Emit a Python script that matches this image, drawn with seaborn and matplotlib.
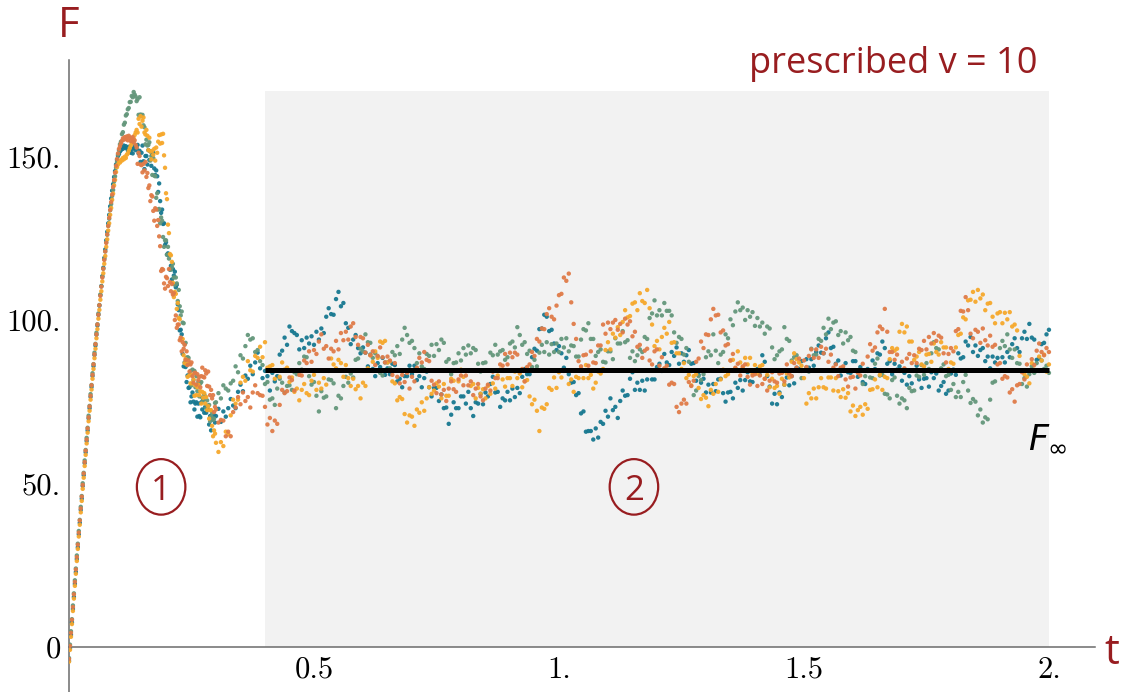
import numpy as np
import pandas as pd
import matplotlib
matplotlib.use("Agg")
import matplotlib.pyplot as plt
from matplotlib.patches import Rectangle, Ellipse
import seaborn as sns

# ---------------------------------------------------------------------------
# Force F(t) for four runs at prescribed velocity v = 10.
# Rise phase sampled every 0.002 (t = 0 ... 0.300),
# plateau phase sampled every 0.005 (t = 0.305 ... 2.000).
# ---------------------------------------------------------------------------
t_rise = np.round(np.arange(151) * 0.002, 3)
t_plateau = np.round(0.305 + np.arange(340) * 0.005, 3)

runs = ["run A", "run B", "run C", "run D"]
run_colors = ["#177890", "#64977b", "#f6a82c", "#e07b48"]

f_run_a_rise = [
    -4.4, -0.5, 3.6, 7.4, 11.5, 15.2, 19.2, 22.8, 26.8, 30.4,
    34.4, 37.9, 41.9, 45.3, 49.2, 52.5, 56.2, 59.5, 63.0, 66.2,
    69.9, 73.0, 76.5, 79.5, 82.9, 85.9, 89.3, 92.2, 95.5, 98.3,
    101.6, 104.4, 107.6, 110.4, 113.4, 116.0, 119.0, 121.6, 124.4, 127.0,
    129.6, 132.2, 134.8, 137.2, 139.6, 141.6, 143.8, 145.6, 147.6, 149.0,
    150.2, 150.8, 151.6, 152.0, 152.8, 152.4, 153.4, 152.8, 153.2, 152.6,
    152.0, 153.0, 151.6, 151.2, 152.2, 151.0, 152.6, 153.2, 152.0, 152.6,
    153.6, 151.0, 151.8, 148.4, 151.2, 153.4, 148.6, 146.2, 150.2, 150.2,
    147.6, 152.0, 149.0, 151.6, 147.2, 150.6, 151.2, 146.4, 144.4, 145.8,
    144.0, 139.2, 141.8, 136.4, 132.8, 133.8, 129.4, 129.6, 123.0, 123.8,
    120.0, 120.4, 120.0, 115.4, 116.6, 112.4, 115.6, 113.6, 114.8, 110.0,
    110.8, 104.8, 103.0, 96.8, 97.0, 95.6, 89.6, 85.8, 87.0, 85.6,
    81.0, 83.0, 79.2, 79.4, 74.8, 76.6, 77.8, 75.0, 72.6, 74.4,
    74.8, 70.4, 74.4, 70.6, 70.2, 74.8, 72.6, 75.6, 71.6, 73.4,
    71.6, 72.6, 72.6, 68.0, 70.6, 66.2, 69.6, 69.6, 70.8, 68.6,
    70.6,
]
f_run_a_plateau = [
    72.8, 68.8, 72.0, 70.4, 73.0, 75.8, 73.8, 73.0, 78.0, 80.2,
    78.2, 83.0, 82.0, 86.0, 83.4, 87.0, 90.0, 85.2, 82.2, 84.4,
    82.8, 78.4, 83.8, 81.2, 82.8, 89.4, 90.6, 94.6, 92.4, 98.0,
    96.6, 96.0, 95.4, 91.0, 93.8, 91.4, 94.6, 92.8, 95.0, 92.4,
    96.4, 94.0, 97.4, 96.0, 101.0, 103.6, 101.8, 101.6, 106.4, 108.6,
    104.2, 105.2, 99.0, 97.6, 92.6, 94.0, 95.4, 91.4, 89.8, 91.6,
    90.0, 85.8, 89.4, 85.0, 82.8, 86.8, 85.6, 88.4, 83.2, 85.2,
    83.4, 86.6, 86.2, 81.2, 82.0, 79.4, 82.8, 82.8, 86.0, 83.4,
    86.0, 81.6, 82.8, 79.4, 82.2, 84.2, 79.4, 76.6, 79.2, 79.2,
    75.2, 77.2, 73.0, 73.2, 68.2, 71.0, 74.8, 73.0, 73.0, 76.6,
    76.6, 74.4, 78.0, 73.0, 70.6, 74.8, 74.4, 77.4, 74.2, 77.8,
    76.6, 80.4, 82.6, 77.8, 78.0, 73.4, 76.0, 75.4, 78.0, 75.4,
    79.0, 76.4, 79.2, 77.6, 82.6, 85.0, 83.4, 83.4, 88.6, 91.2,
    90.6, 97.2, 97.4, 101.6, 101.0, 96.6, 97.0, 92.8, 90.8, 92.0,
    89.8, 85.4, 88.4, 83.4, 80.8, 81.0, 77.0, 77.6, 71.4, 72.0,
    65.8, 66.0, 66.0, 63.4, 66.8, 64.0, 68.8, 68.2, 72.2, 70.4,
    76.0, 72.4, 73.4, 70.0, 75.2, 78.4, 76.8, 77.0, 82.0, 84.0,
    78.6, 80.8, 78.6, 81.4, 78.4, 81.8, 84.6, 81.8, 81.8, 85.6,
    86.6, 84.4, 89.6, 87.0, 86.2, 90.2, 89.0, 91.6, 86.6, 89.8,
    87.2, 89.2, 90.8, 86.6, 86.8, 81.4, 83.2, 80.8, 82.0, 77.8,
    80.2, 77.8, 80.4, 78.2, 81.8, 82.0, 77.6, 75.0, 77.8, 78.0,
    76.0, 80.8, 79.2, 81.6, 78.4, 81.6, 84.0, 81.2, 81.0, 84.4,
    85.0, 83.2, 89.2, 87.2, 82.8, 79.6, 74.4, 77.4, 74.2, 77.8,
    76.4, 80.2, 82.4, 80.0, 82.8, 80.6, 85.4, 85.0, 87.4, 84.6,
    88.0, 85.4, 88.0, 86.0, 90.2, 92.2, 90.0, 89.8, 94.4, 96.2,
    91.4, 91.8, 86.6, 87.6, 83.0, 85.0, 86.8, 84.0, 83.8, 87.4,
    87.4, 82.6, 85.6, 81.0, 80.4, 85.0, 84.6, 87.6, 85.0, 89.8,
    89.4, 93.4, 91.4, 86.6, 87.4, 83.4, 86.6, 84.8, 85.8, 81.4,
    83.8, 80.2, 82.8, 80.6, 84.6, 86.0, 81.8, 79.2, 82.0, 82.2,
    79.6, 84.0, 82.2, 83.6, 78.4, 79.8, 81.0, 77.4, 78.4, 83.6,
    84.8, 83.2, 89.8, 88.2, 88.6, 93.4, 92.2, 94.8, 90.2, 92.2,
    89.0, 90.8, 91.4, 87.4, 88.8, 85.2, 88.8, 87.0, 88.4, 84.4,
    88.6, 87.0, 90.2, 88.6, 92.6, 94.4, 91.4, 90.2, 94.4, 96.4,
    94.2, 98.8, 94.6, 94.0, 87.8, 88.2, 92.6, 93.0, 95.6, 97.0,
]

f_run_b_rise = [
    -3.5, 0.6, 4.7, 8.4, 12.6, 16.3, 20.3, 23.9, 27.9, 31.5,
    35.4, 38.8, 42.8, 46.1, 50.0, 53.2, 57.0, 60.2, 63.9, 67.0,
    70.7, 73.7, 77.3, 80.1, 83.7, 86.5, 90.0, 92.7, 96.1, 98.7,
    102.0, 104.6, 107.8, 110.3, 113.3, 115.7, 118.6, 121.0, 123.8, 126.1,
    128.8, 131.0, 133.6, 135.5, 138.0, 139.8, 142.4, 144.0, 146.6, 148.4,
    150.6, 152.0, 153.8, 154.6, 156.9, 157.5, 159.8, 160.4, 162.6, 163.0,
    164.5, 164.9, 166.7, 166.8, 168.6, 168.2, 169.8, 169.0, 168.4, 167.0,
    167.6, 162.8, 168.2, 162.9, 162.4, 162.8, 159.6, 159.0, 153.8, 155.2,
    153.4, 153.6, 154.4, 148.8, 150.2, 144.4, 149.6, 144.2, 144.0, 137.4,
    138.8, 133.8, 134.0, 129.6, 131.4, 130.4, 125.4, 122.4, 124.4, 124.4,
    120.0, 122.4, 118.8, 120.0, 115.4, 116.2, 117.2, 113.0, 110.8, 113.0,
    111.2, 105.8, 109.2, 104.2, 101.4, 102.6, 99.2, 99.0, 92.6, 93.0,
    88.4, 88.6, 88.4, 83.4, 84.4, 80.0, 84.8, 81.6, 84.4, 79.4,
    82.8, 78.2, 81.0, 76.6, 80.6, 81.0, 76.2, 75.4, 77.2, 76.6,
    73.0, 75.4, 73.8, 74.0, 69.0, 70.4, 71.6, 69.4, 69.8, 74.6,
    74.8,
]
f_run_b_plateau = [
    77.6, 76.0, 80.0, 79.0, 78.4, 80.6, 81.4, 85.8, 84.0, 89.2,
    88.2, 92.0, 95.4, 94.0, 94.4, 90.2, 90.8, 87.4, 86.2, 80.4,
    81.0, 75.6, 76.0, 74.0, 79.0, 82.0, 80.8, 77.8, 79.8, 80.0,
    78.6, 84.0, 83.4, 86.8, 84.8, 88.8, 88.6, 82.8, 80.2, 81.0,
    76.8, 72.0, 78.2, 76.2, 76.6, 81.8, 81.6, 80.6, 73.0, 76.8,
    76.0, 79.8, 82.6, 80.8, 83.6, 82.4, 87.8, 88.2, 91.2, 90.4,
    95.6, 93.2, 93.0, 88.4, 89.8, 88.8, 83.8, 83.0, 87.0, 87.0,
    85.2, 90.2, 89.2, 92.0, 89.6, 94.0, 97.6, 95.4, 93.0, 93.6,
    91.4, 86.8, 89.8, 85.8, 85.0, 89.6, 89.0, 92.4, 89.0, 92.6,
    90.8, 94.0, 93.0, 87.2, 88.0, 83.4, 86.8, 87.0, 89.8, 87.6,
    91.4, 89.4, 92.2, 89.8, 91.4, 90.8, 86.6, 84.2, 86.8, 87.0,
    84.6, 90.0, 89.2, 92.4, 89.4, 90.4, 90.8, 87.8, 88.6, 92.8,
    93.4, 91.6, 97.8, 95.4, 92.4, 93.2, 89.6, 90.6, 85.6, 87.8,
    85.8, 90.0, 92.4, 90.2, 93.2, 89.4, 92.6, 90.2, 92.8, 90.2,
    94.2, 91.6, 94.4, 90.4, 92.2, 92.0, 88.8, 88.8, 94.0, 97.2,
    96.8, 99.0, 94.2, 94.2, 89.0, 90.2, 91.0, 87.2, 87.0, 90.4,
    90.4, 88.0, 94.4, 92.8, 92.8, 96.6, 93.2, 93.8, 88.4, 90.4,
    87.4, 89.2, 91.0, 90.2, 94.8, 94.2, 100.6, 102.0, 106.0, 101.4,
    103.0, 101.4, 105.2, 102.8, 102.8, 101.4, 96.2, 93.0, 94.8, 94.2,
    89.4, 91.4, 87.2, 84.4, 77.0, 78.4, 82.8, 81.6, 83.4, 88.6,
    90.4, 89.2, 95.6, 90.6, 86.8, 89.4, 90.2, 95.6, 94.4, 100.2,
    98.4, 102.6, 105.4, 103.0, 103.8, 100.0, 103.0, 101.0, 102.4, 98.2,
    100.6, 98.0, 99.2, 95.8, 98.0, 97.4, 91.6, 88.0, 89.2, 90.4,
    91.0, 97.8, 94.2, 93.6, 87.6, 88.6, 89.2, 84.4, 82.2, 84.6,
    85.4, 84.2, 91.2, 89.2, 89.4, 94.2, 93.6, 97.6, 95.6, 100.4,
    97.2, 99.2, 99.6, 95.4, 96.6, 92.8, 96.2, 93.8, 94.8, 90.6,
    90.2, 84.2, 84.4, 80.4, 82.8, 84.4, 82.4, 82.2, 86.6, 88.2,
    83.0, 83.2, 77.4, 77.2, 76.0, 81.6, 82.4, 76.8, 74.4, 76.0,
    75.4, 73.0, 79.2, 78.2, 78.4, 83.0, 82.6, 86.2, 83.2, 86.8,
    85.0, 89.8, 93.2, 91.4, 91.0, 85.2, 86.4, 82.8, 83.2, 78.6,
    80.4, 76.4, 78.0, 76.4, 81.0, 83.2, 78.4, 74.6, 75.8, 75.0,
    70.8, 72.6, 68.6, 70.2, 69.6, 75.6, 80.8, 81.2, 84.6, 91.4,
    93.6, 92.0, 95.6, 91.0, 88.4, 91.0, 86.8, 86.6, 80.4, 82.2,
    79.6, 83.4, 85.8, 83.8, 86.8, 84.4, 87.6, 85.0, 86.0, 83.8,
]

f_run_c_rise = [
    -4.6, -1.0, 3.0, 6.9, 10.9, 14.7, 18.6, 22.3, 26.2, 29.9,
    33.7, 37.3, 41.1, 44.6, 48.3, 51.7, 55.3, 58.7, 62.2, 65.5,
    69.0, 72.2, 75.6, 78.7, 82.0, 85.0, 88.3, 91.2, 94.4, 97.2,
    100.4, 103.1, 106.2, 108.8, 111.8, 114.3, 117.2, 119.6, 122.4, 124.7,
    127.4, 129.6, 132.2, 134.3, 136.8, 138.7, 141.2, 142.9, 145.3, 146.8,
    147.6, 148.4, 148.2, 149.0, 148.8, 149.6, 149.2, 150.0, 149.6, 150.6,
    151.0, 151.8, 152.6, 153.4, 154.2, 155.0, 155.6, 156.6, 157.4, 158.2,
    157.4, 161.6, 160.0, 162.4, 159.2, 161.0, 162.0, 157.4, 156.8, 158.2,
    156.4, 152.0, 155.8, 151.6, 149.2, 151.8, 150.6, 152.4, 148.8, 152.8,
    151.2, 154.6, 156.6, 154.0, 156.8, 154.2, 157.0, 150.4, 146.6, 138.8,
    137.0, 129.2, 126.6, 120.2, 119.8, 117.8, 111.4, 107.0, 108.6, 108.0,
    103.4, 105.2, 100.6, 100.2, 94.0, 94.2, 94.2, 89.2, 86.8, 88.0,
    86.4, 82.6, 86.6, 83.0, 80.6, 83.2, 80.6, 81.8, 76.8, 80.0,
    77.0, 79.4, 80.2, 77.0, 78.2, 74.4, 78.0, 76.2, 77.6, 74.4,
    76.4, 72.4, 73.6, 69.8, 72.4, 72.4, 67.6, 64.4, 66.2, 65.2,
    62.4,
]
f_run_c_plateau = [
    59.6, 62.6, 61.4, 65.8, 65.0, 70.8, 75.6, 74.4, 75.6, 80.8,
    82.6, 81.4, 87.4, 84.6, 84.2, 89.0, 88.4, 91.8, 88.6, 93.2,
    85.4, 85.8, 86.2, 82.0, 84.6, 82.6, 87.0, 84.8, 85.4, 81.0,
    82.4, 78.0, 79.0, 75.4, 78.6, 80.4, 77.6, 77.0, 81.4, 83.2,
    78.6, 80.8, 79.0, 82.2, 80.2, 84.4, 88.2, 86.4, 85.2, 87.8,
    86.8, 82.6, 86.2, 82.2, 79.8, 82.0, 78.8, 79.8, 76.0, 80.8,
    79.8, 85.2, 89.2, 87.2, 90.4, 88.4, 93.4, 93.0, 93.6, 87.0,
    87.4, 81.2, 80.6, 75.4, 76.4, 75.8, 71.2, 68.6, 70.8, 70.4,
    67.6, 72.6, 71.6, 74.8, 72.2, 76.0, 79.4, 77.4, 78.4, 80.6,
    79.6, 76.0, 80.4, 76.8, 76.8, 82.0, 81.4, 84.6, 81.2, 84.8,
    82.6, 84.4, 84.4, 79.8, 80.4, 76.0, 79.2, 77.4, 78.8, 76.0,
    79.8, 77.4, 80.6, 79.0, 83.0, 84.8, 81.8, 79.6, 82.2, 82.2,
    79.8, 84.2, 82.2, 83.6, 79.4, 81.2, 81.6, 76.6, 74.2, 75.6,
    72.2, 66.0, 73.2, 72.8, 74.2, 79.2, 78.6, 82.4, 79.2, 84.0,
    82.4, 84.4, 84.6, 80.4, 81.8, 78.0, 82.6, 82.2, 85.0, 82.2,
    86.2, 82.2, 83.2, 79.0, 80.8, 84.2, 83.6, 85.0, 90.8, 93.2,
    91.0, 95.8, 94.6, 97.8, 95.4, 99.4, 103.0, 100.8, 101.2, 105.0,
    105.4, 103.0, 108.2, 105.8, 105.2, 109.2, 103.6, 98.6, 92.0, 93.6,
    91.0, 94.8, 97.6, 95.8, 99.4, 93.0, 93.2, 89.8, 89.8, 85.0,
    86.8, 82.2, 83.2, 80.0, 82.8, 83.4, 79.2, 75.8, 77.0, 76.2,
    73.6, 78.6, 77.4, 80.4, 78.0, 81.8, 84.8, 82.8, 83.4, 87.6,
    87.8, 85.2, 90.4, 87.0, 85.4, 88.4, 86.4, 88.4, 83.6, 86.2,
    83.6, 85.8, 86.2, 82.0, 83.2, 79.4, 82.0, 79.2, 79.8, 77.4,
    82.0, 80.2, 83.6, 82.4, 87.2, 89.8, 88.0, 87.0, 86.0, 82.2,
    74.4, 77.6, 76.0, 79.0, 76.0, 79.4, 82.2, 79.4, 79.0, 82.4,
    82.4, 78.4, 82.2, 78.2, 76.4, 78.8, 76.2, 77.6, 72.0, 73.8,
    70.6, 72.4, 73.4, 71.0, 74.2, 72.8, 78.6, 78.8, 81.8, 79.4,
    83.2, 78.6, 82.6, 82.2, 88.0, 91.4, 90.6, 91.2, 96.4, 98.8,
    96.2, 98.0, 93.4, 93.4, 87.8, 88.8, 90.2, 86.4, 85.8, 89.4,
    89.6, 87.2, 92.8, 90.2, 89.4, 93.2, 91.6, 91.6, 85.0, 87.0,
    86.6, 91.6, 95.4, 95.8, 100.8, 100.2, 106.0, 106.2, 108.6, 105.6,
    109.2, 106.6, 107.8, 103.0, 105.0, 105.2, 101.0, 99.0, 102.0, 102.4,
    99.0, 102.2, 100.2, 102.4, 98.0, 98.6, 96.8, 89.0, 84.4, 83.4,
    82.6, 80.6, 86.8, 84.8, 84.6, 88.8, 87.6, 89.4, 84.2, 86.4,
]

f_run_d_rise = [
    -3.8, 0.2, 4.2, 8.2, 12.1, 16.0, 19.8, 23.6, 27.4, 31.2,
    34.9, 38.6, 42.3, 45.9, 49.5, 53.0, 56.5, 60.0, 63.4, 66.8,
    70.2, 73.5, 76.8, 80.0, 83.2, 86.4, 89.5, 92.6, 95.6, 98.6,
    101.6, 104.5, 107.4, 110.2, 113.0, 115.7, 118.4, 121.0, 123.6, 126.2,
    128.8, 131.3, 133.7, 136.1, 138.4, 140.7, 142.9, 145.1, 147.2, 149.3,
    151.0, 152.4, 153.2, 154.0, 154.8, 155.6, 155.2, 156.0, 155.4, 156.2,
    155.0, 156.4, 155.8, 154.8, 155.6, 156.0, 154.4, 155.0, 153.6, 152.8,
    147.8, 151.2, 150.2, 147.6, 147.4, 145.2, 147.8, 145.8, 148.4, 143.8,
    145.0, 140.4, 141.2, 136.4, 138.2, 137.8, 133.4, 130.4, 134.2, 133.8,
    128.8, 130.6, 125.6, 122.6, 115.0, 115.6, 115.4, 111.2, 109.6, 113.2,
    112.8, 110.4, 115.6, 111.6, 108.8, 111.0, 107.8, 108.2, 100.0, 101.4,
    97.6, 98.6, 98.6, 93.8, 94.6, 90.4, 93.2, 91.2, 92.4, 87.8,
    90.4, 86.2, 87.6, 84.2, 86.4, 87.0, 82.8, 80.8, 83.8, 83.8,
    80.2, 83.4, 81.6, 82.6, 79.4, 82.8, 85.4, 82.6, 82.4, 84.6,
    83.6, 79.8, 84.2, 79.6, 77.0, 78.6, 76.0, 77.0, 71.8, 73.4,
    72.6,
]
f_run_d_plateau = [
    68.6, 69.4, 69.2, 64.4, 65.8, 64.4, 71.8, 73.2, 76.4, 74.2,
    77.8, 75.2, 76.4, 73.2, 77.8, 80.0, 77.6, 77.0, 76.8, 73.4,
    68.0, 70.0, 66.0, 69.2, 68.2, 74.0, 78.6, 77.6, 78.2, 82.4,
    81.6, 78.4, 84.6, 83.2, 83.0, 87.6, 86.8, 90.4, 87.2, 90.8,
    89.6, 93.4, 95.6, 91.2, 92.0, 88.2, 91.2, 90.4, 93.6, 91.0,
    96.0, 93.8, 96.4, 94.0, 98.0, 99.0, 94.8, 92.4, 94.8, 94.4,
    90.0, 92.4, 89.2, 90.4, 86.2, 89.0, 91.6, 88.6, 87.0, 88.8,
    87.6, 83.2, 86.8, 82.6, 80.6, 83.2, 81.0, 83.8, 79.0, 82.6,
    81.2, 85.4, 88.4, 87.0, 90.2, 87.8, 87.4, 81.4, 80.2, 77.6,
    81.2, 77.2, 78.6, 75.2, 79.0, 81.2, 78.8, 78.0, 81.8, 83.0,
    80.0, 83.0, 80.0, 81.2, 77.0, 79.0, 80.4, 76.6, 75.4, 79.0,
    80.2, 78.4, 84.2, 82.2, 82.2, 86.4, 86.0, 89.6, 86.4, 90.0,
    88.6, 90.0, 89.4, 84.2, 85.0, 81.2, 85.6, 86.4, 90.2, 89.0,
    94.2, 93.4, 97.4, 97.2, 101.8, 103.6, 101.0, 100.2, 104.4, 107.6,
    108.0, 113.0, 112.0, 114.2, 105.4, 98.8, 94.2, 87.4, 85.8, 89.2,
    89.4, 86.0, 90.4, 87.0, 86.8, 92.2, 92.2, 98.6, 95.8, 99.2,
    97.2, 99.2, 100.0, 97.0, 98.8, 96.2, 100.4, 98.6, 99.6, 95.0,
    96.4, 91.8, 92.4, 88.4, 90.6, 91.2, 87.6, 86.4, 90.4, 91.0,
    86.0, 88.6, 85.2, 86.0, 80.2, 80.8, 80.4, 73.4, 71.8, 74.4,
    75.6, 74.4, 81.0, 79.8, 81.4, 87.2, 88.2, 93.4, 91.4, 95.6,
    95.4, 100.2, 103.4, 101.4, 101.6, 96.2, 96.8, 92.2, 92.6, 87.6,
    89.6, 85.4, 86.6, 83.0, 85.8, 86.4, 82.6, 80.2, 83.0, 83.4,
    79.8, 83.0, 80.4, 82.0, 78.4, 81.4, 84.0, 81.2, 80.8, 83.6,
    83.8, 81.2, 86.4, 83.6, 82.8, 86.8, 85.4, 88.2, 84.4, 87.6,
    85.6, 89.0, 91.0, 88.4, 91.0, 88.4, 91.8, 89.8, 91.2, 87.2,
    89.4, 85.4, 86.4, 82.8, 85.4, 85.8, 81.8, 79.6, 82.4, 82.6,
    79.0, 83.8, 83.0, 86.6, 84.4, 88.8, 92.6, 90.6, 91.6, 96.2,
    98.0, 97.2, 103.4, 96.4, 90.2, 90.2, 87.8, 89.4, 84.4, 87.2,
    85.2, 88.2, 89.6, 86.8, 89.2, 86.8, 91.2, 90.8, 93.6, 91.0,
    94.8, 92.8, 96.0, 93.6, 95.2, 94.6, 89.8, 87.0, 89.6, 91.4,
    90.4, 96.6, 97.2, 102.8, 102.6, 107.0, 103.0, 95.8, 94.4, 97.0,
    96.4, 93.0, 97.4, 93.8, 92.2, 95.2, 91.8, 92.4, 86.4, 86.8,
    82.0, 82.8, 82.4, 77.8, 78.8, 75.0, 80.0, 80.4, 84.0, 81.8,
    86.4, 84.6, 88.0, 86.2, 90.6, 92.8, 90.2, 89.2, 91.4, 90.2,
]

# steady-state force and the window over which it is reached
f_inf = 84.8
steady_window = (0.4, 2.0)
window_top = 170.0

series = {
    "run A": (f_run_a_rise, f_run_a_plateau),
    "run B": (f_run_b_rise, f_run_b_plateau),
    "run C": (f_run_c_rise, f_run_c_plateau),
    "run D": (f_run_d_rise, f_run_d_plateau),
}

frames = []
for name, (rise, plateau) in series.items():
    frames.append(pd.DataFrame({
        "t": np.concatenate([t_rise, t_plateau]),
        "F": np.concatenate([rise, plateau]),
        "run": name,
    }))
df = pd.concat(frames, ignore_index=True)

# ---------------------------------------------------------------------------
sns.set_style("white")
plt.rcParams["font.family"] = ["Open Sans", "DejaVu Sans"]
plt.rcParams["mathtext.fontset"] = "dejavusans"

dark_red = "#981d20"
axis_gray = "#6b6b6b"

W, H = 1136, 692
fig = plt.figure(figsize=(W / 100, H / 100), dpi=100)
ax = fig.add_axes([69 / W, 0.0, 1026 / W, 632 / H])

# shaded steady-state window
ax.add_patch(Rectangle((steady_window[0], 0), steady_window[1] - steady_window[0],
                       window_top, facecolor="#f2f2f2", edgecolor="none", zorder=0))

sns.scatterplot(data=df, x="t", y="F", hue="run", hue_order=runs,
                palette=run_colors, s=10, linewidth=0, alpha=0.95,
                legend=False, ax=ax, zorder=3)

ax.hlines(f_inf, steady_window[0], steady_window[1], color="black", lw=3.6, zorder=5)

ax.set_xlim(0, 2.094)
ax.set_ylim(-13.9, 179.6)

for side in ("top", "right"):
    ax.spines[side].set_visible(False)
ax.spines["bottom"].set_position(("data", 0))
for side in ("left", "bottom"):
    ax.spines[side].set_color(axis_gray)
    ax.spines[side].set_linewidth(1.1)

ax.set_xticks([0.5, 1.0, 1.5, 2.0])
ax.set_xticklabels(["0.5", "1.", "1.5", "2."], fontfamily="cmr10", fontsize=22)
ax.set_yticks([0, 50, 100, 150])
ax.set_yticklabels(["0", "50.", "100.", "150."], fontfamily="cmr10", fontsize=22)
ax.tick_params(axis="both", direction="in", length=3, width=1,
               color=axis_gray, labelcolor="black")
ax.tick_params(axis="x", pad=7)
ax.tick_params(axis="y", pad=6)
ax.set_xlabel("")
ax.set_ylabel("")

# axis names
fig.text(58 / W, 1 - 37 / H, "F", fontsize=30, color=dark_red, va="baseline")
fig.text(1104 / W, 1 - 664 / H, "t", fontsize=30, color=dark_red, va="baseline")

ax.text(1.388, 175.6, "prescribed v = 10", fontsize=26, color=dark_red,
        va="baseline", ha="left")

# phase markers
for label, tc in (("1", 0.188), ("2", 1.153)):
    ax.add_patch(Ellipse((tc, 48.9), width=0.099, height=17.0, fill=False,
                         edgecolor=dark_red, lw=1.6, zorder=6))
    ax.text(tc, 48.9, label, fontsize=25, color=dark_red, ha="center",
            va="center_baseline", zorder=7)

ax.text(1.957, 60.8, r"$F_{\infty}$", fontsize=25, color="black",
        ha="left", va="baseline")

fig.savefig("out.png", dpi=100)
